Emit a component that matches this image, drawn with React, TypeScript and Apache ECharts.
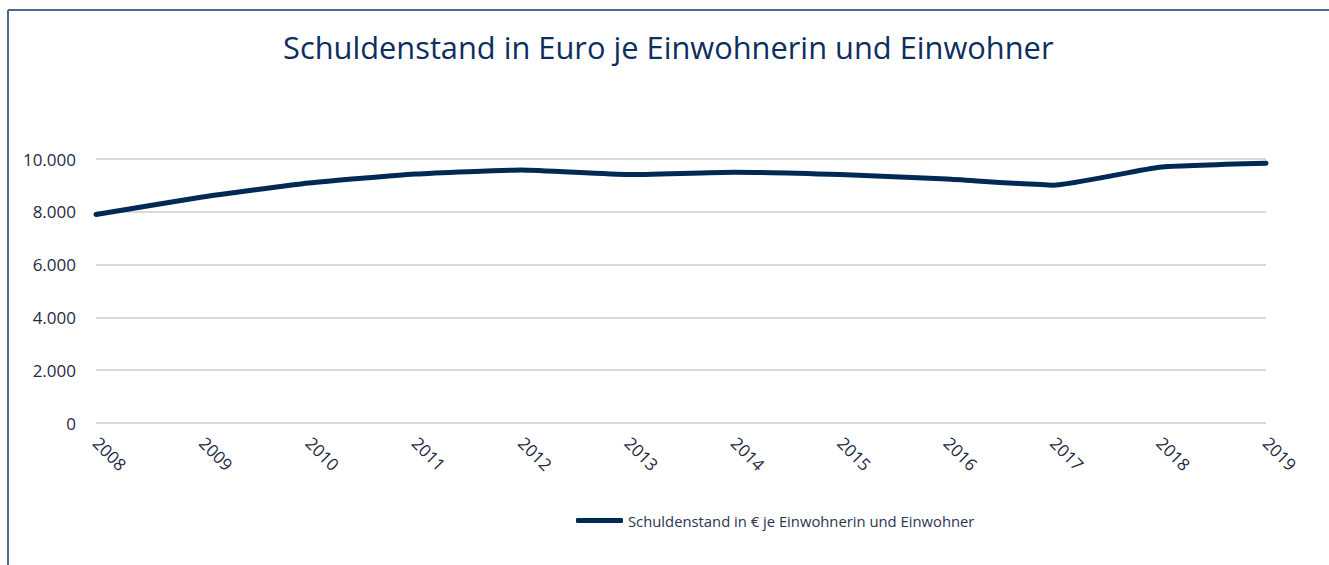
import React, { useEffect, useRef } from "react";
import * as echarts from "echarts";

const years = ["2008", "2009", "2010", "2011", "2012", "2013", "2014", "2015", "2016", "2017", "2018", "2019"];
const debtPerCapita = [7900, 8560, 9090, 9430, 9580, 9410, 9500, 9410, 9240, 9010, 9690, 9840];
const seriesName = "Schuldenstand in € je Einwohnerin und Einwohner";
const titleText = "Schuldenstand in Euro je Einwohnerin und Einwohner";

function fmt(v: number): string {
  return String(Math.round(v)).replace(/\B(?=(\d{3})+(?!\d))/g, ".");
}

const FONT = "Open Sans";

export default function App() {
  const ref = useRef<HTMLDivElement>(null);
  useEffect(() => {
    if (!ref.current) return;
    const chart = echarts.init(ref.current, null, { renderer: "svg" });
    chart.setOption({
      animation: false,
      backgroundColor: "#ffffff",
      textStyle: { fontFamily: FONT },
      title: {
        text: titleText,
        left: 283,
        top: 31,
        padding: 0,
        textStyle: { fontFamily: FONT, fontSize: 30.8, fontWeight: "normal", color: "#0d2f5f" },
      },
      grid: { left: 96, right: 63, top: 159, bottom: 142 },
      legend: {
        bottom: 32,
        left: 571,
        itemWidth: 47,
        itemHeight: 5,
        itemGap: 6,
        icon: "roundRect",
        textStyle: { fontFamily: FONT, fontSize: 14.8, color: "#2a3550" },
        data: [seriesName],
      },
      xAxis: {
        type: "category",
        data: years,
        boundaryGap: false,
        axisLine: { show: false },
        axisTick: { show: false },
        axisLabel: { rotate: -45, fontSize: 17, color: "#1f2a44", margin: 17, fontFamily: FONT },
      },
      yAxis: {
        type: "value",
        min: 0,
        max: 10000,
        interval: 2000,
        axisLine: { show: false },
        axisTick: { show: false },
        splitLine: { lineStyle: { color: "#d9d9d9", width: 2 } },
        axisLabel: { fontSize: 17, color: "#1f2a44", margin: 20, fontFamily: FONT, formatter: (v: number) => fmt(v) },
      },
      graphic: [
        { type: "line", shape: { x1: 8, y1: 10, x2: 1329, y2: 10 }, style: { stroke: "#4a6a90", lineWidth: 2 } },
        { type: "line", shape: { x1: 8, y1: 10, x2: 8, y2: 565 }, style: { stroke: "#4a6a90", lineWidth: 2 } },
      ],
      series: [
        {
          name: seriesName,
          type: "line",
          data: debtPerCapita,
          symbol: "none",
          smooth: 0.15,
          lineStyle: { color: "#002a55", width: 5, cap: "round" },
          itemStyle: { color: "#002a55" },
        },
      ],
    });
    return () => chart.dispose();
  }, []);
  return <div ref={ref} style={{ position: "absolute", left: 0, top: 0, width: 1329, height: 565 }} />;
}
